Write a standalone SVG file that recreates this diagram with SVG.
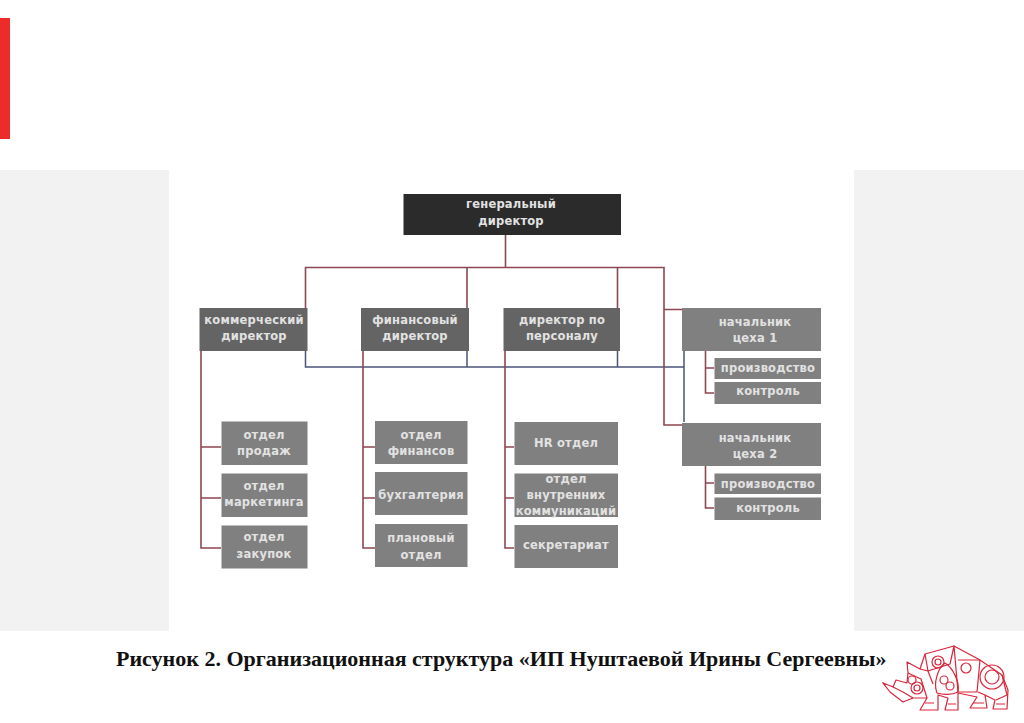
<svg xmlns="http://www.w3.org/2000/svg" width="1024" height="723" viewBox="0 0 1024 723">
<style>
text{font-family:"DejaVu Sans","Liberation Sans",sans-serif;font-weight:700;font-size:11.5px;fill:#e2e2e2;text-anchor:middle;letter-spacing:.2px}
.d{fill:#2b2b2b}.m{fill:#646464}.l{fill:#808080}
.r{stroke:#8e4650;stroke-width:1.6;fill:none}
.b{stroke:#4a5478;stroke-width:1.5;fill:none}
.k{stroke:#d8263a;stroke-width:1.2;fill:none;stroke-linejoin:round}
#caption{font-family:"Liberation Serif",serif;font-size:22px;fill:#111;letter-spacing:0;text-anchor:start}
</style>
<rect width="1024" height="723" fill="#fff"/>
<rect x="0" y="18" width="10" height="121" fill="#ee2b2b"/>
<rect x="0" y="170" width="169" height="461" fill="#f2f2f2"/>
<rect x="854" y="170" width="170" height="461" fill="#f2f2f2"/>
<g id="connectors">
<path class="b" d="M305.500 351V367H684M467 351V367M617.500 351V367M684 351V422"/>
<path class="r" d="M505.500 235V267.500M305.500 308V267.500H664V425H682M467 267.500V308M617.500 267.500V308M664 309.500H682"/>
<path class="r" d="M201 351V548H221M201 447H221M201 498H221"/>
<path class="r" d="M363 351V548H375M363 447H375M363 498H375"/>
<path class="r" d="M505 351V548H514M505 447H514M505 498H514"/>
<path class="r" d="M705.500 351V393H714M705.500 368H714M705.500 466V508H714M705.500 483H714"/>
</g>
<g id="n-gen"><rect class="d" x="403.500" y="194" width="217.500" height="41"/><text x="511" y="208">генеральный</text><text x="511" y="225">директор</text></g>
<g id="n-com"><rect class="m" x="199.500" y="308" width="108" height="43"/><text x="254" y="324">коммерческий</text><text x="254" y="340">директор</text></g>
<g id="n-fin"><rect class="m" x="361" y="308" width="108" height="43"/><text x="415" y="324">финансовый</text><text x="415" y="340">директор</text></g>
<g id="n-hr"><rect class="m" x="503.500" y="308" width="116.500" height="43"/><text x="562" y="324">директор по</text><text x="562" y="340">персоналу</text></g>
<g id="n-shop1"><rect class="l" x="682" y="308" width="139" height="43"/><text x="755" y="326">начальник</text><text x="755" y="342">цеха 1</text></g>
<g id="n-prod1"><rect class="l" x="714.500" y="358" width="106.500" height="21"/><text x="768" y="372">производство</text></g>
<g id="n-ctrl1"><rect class="l" x="714.500" y="382" width="106.500" height="22"/><text x="768" y="395">контроль</text></g>
<g id="n-shop2"><rect class="l" x="682" y="423" width="139" height="43"/><text x="755" y="442">начальник</text><text x="755" y="458">цеха 2</text></g>
<g id="n-prod2"><rect class="l" x="714.500" y="473.500" width="106.500" height="20.500"/><text x="768" y="488">производство</text></g>
<g id="n-ctrl2"><rect class="l" x="714.500" y="497.500" width="106.500" height="22.500"/><text x="768" y="512">контроль</text></g>
<g id="n-sales"><rect class="l" x="221.500" y="421.500" width="86" height="43.500"/><text x="264" y="439">отдел</text><text x="264" y="455">продаж</text></g>
<g id="n-mkt"><rect class="l" x="221.500" y="473.500" width="86" height="43.500"/><text x="264" y="490">отдел</text><text x="264" y="506">маркетинга</text></g>
<g id="n-buy"><rect class="l" x="221.500" y="525.500" width="86" height="43"/><text x="264" y="541">отдел</text><text x="264" y="558">закупок</text></g>
<g id="n-findep"><rect class="l" x="375" y="421" width="92.500" height="43"/><text x="421" y="439">отдел</text><text x="421" y="455">финансов</text></g>
<g id="n-acc"><rect class="l" x="375" y="472" width="92.500" height="43"/><text x="421" y="499">бухгалтерия</text></g>
<g id="n-plan"><rect class="l" x="375" y="524" width="92.500" height="43"/><text x="421" y="542">плановый</text><text x="421" y="559">отдел</text></g>
<g id="n-hrd"><rect class="l" x="514.500" y="422" width="103.500" height="43"/><text x="566" y="447">HR отдел</text></g>
<g id="n-comm"><rect class="l" x="514.500" y="473.500" width="103.500" height="43.500"/><text x="566" y="483">отдел</text><text x="566" y="499">внутренних</text><text x="566" y="515">коммуникаций</text></g>
<g id="n-sec"><rect class="l" x="514.500" y="525" width="103.500" height="43"/><text x="566" y="549">секретариат</text></g>
<text id="caption" x="116" y="665.500">Рисунок 2. Организационная структура «ИП Нуштаевой Ирины Сергеевны»</text>
<g id="rhino" class="k">
<path d="M882.700 682.700L893 687L896 680L907 683L908 673L907 662L920 669L925 654L954 646L980 660L1002 675L1008 690L1007 709L993 709L995 700L985 695L987 708L970 708L977 697L958 693L958 710L945 710L948 698L938 695L938 710L920 710L927 698L913 698L903 702L890 692Z"/>
<path d="M925 654L928 671L950 664L954 646L958 692L977 692L980 660M958 660L980 660M928 671L920 669M928 671L933 684M908 673L921 679L927 698M893 687L903 692L913 698"/>
<path d="M945 663C953 668 960 682 958 692C952 695 943 695 937 693C933 683 938 668 945 663Z"/>
<path d="M978 692L985 695M1002 675L1007 695L996 700"/>
<path d="M925 703H934M948 704H956M973 703H984M996 704H1005"/>
<circle cx="938" cy="662" r="6"/><circle cx="938" cy="662" r="3"/><circle cx="966" cy="668" r="5"/><circle cx="944" cy="680" r="4"/><circle cx="950" cy="686" r="4"/><circle cx="992" cy="677" r="12"/><circle cx="992" cy="677" r="7"/><circle cx="917" cy="688" r="6"/><circle cx="917" cy="688" r="3"/><circle cx="912" cy="680" r="4"/>
</g>
</svg>
